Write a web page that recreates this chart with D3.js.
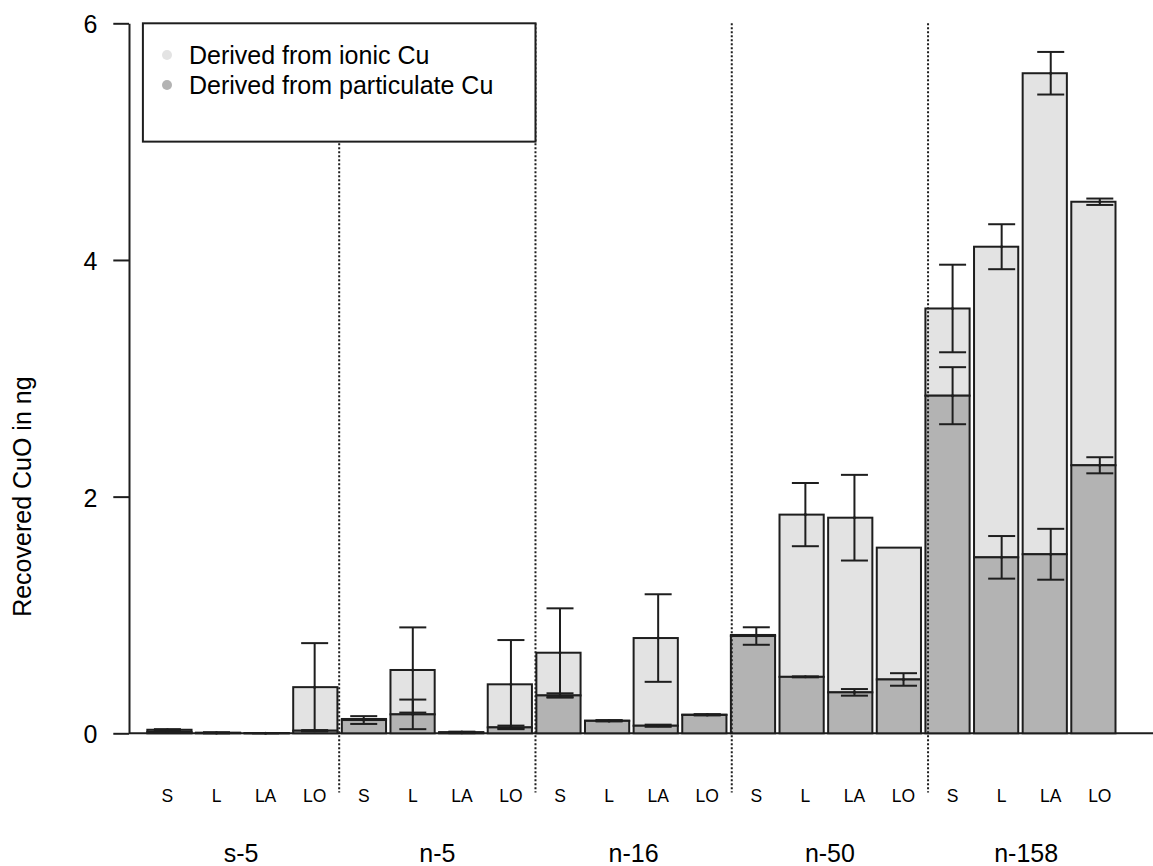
<!doctype html>
<html lang="en">
<head>
	<meta charset="utf-8">
	<title>Recovered CuO</title>
	<script src="https://cdnjs.cloudflare.com/ajax/libs/d3/7.8.5/d3.min.js"></script>
	<style>
		body { margin: 0; background: #fff; }
		svg { display: block; font-family: Arial, "Liberation Sans", sans-serif; }
	</style>
</head>
<body>
<div id="d3view"></div>
<script>
/* model */
var groups = ['s-5', 'n-5', 'n-16', 'n-50', 'n-158'];
var types = ['S', 'L', 'LA', 'LO'];

// bar tops (ionic + particulate) and their error
var total = [0.03, 0.005, 0.002, 0.39, 0.121, 0.535, 0.01, 0.414, 0.681, 0.107, 0.805, 0.158, 0.831, 1.848, 1.822, 1.569, 3.59, 4.112, 5.578, 4.492];
var totalErr = [0.005, 0.003, 0, 0.372, 0, 0.36, 0.004, 0.374, 0.375, 0.004, 0.37, 0.003, 0, 0.267, 0.362, 0, 0.37, 0.19, 0.18, 0.027];

// particulate part and its error
var particulate = [0.012, 0.003, 0.001, 0.022, 0.112, 0.16, 0.005, 0.05, 0.32, 0.105, 0.064, 0.155, 0.822, 0.477, 0.346, 0.455, 2.853, 1.487, 1.513, 2.265];
var particulateErr = [0.005, 0.003, 0.001, 0.005, 0.033, 0.125, 0.004, 0.015, 0.018, 0.004, 0.009, 0.004, 0.074, 0.004, 0.028, 0.053, 0.241, 0.18, 0.215, 0.068];

var yTicks = [0, 2, 4, 6];
var legendLabels = ['Derived from ionic Cu', 'Derived from particulate Cu'];

/* view */
var size = { width: 1153, height: 866 };
var light = '#e3e3e3', dark = '#b3b3b3', ink = '#1e1e1e';
var barSpace = 0.1, labelStep = 1.11, groupWidth = labelStep * types.length;
var fs = 25;

var svg = d3.select('#d3view')
	.append('svg')
	.attr('width', size.width)
	.attr('height', size.height);

var x = d3.scaleLinear().domain([0, 22]).range([142.9, 1115.5]);
var y = d3.scaleLinear().domain([0, 6]).range([733.3, 23.3]);
var bw = x(1) - x(0);

var bars = d3.range(total.length).map(function(i){
	return {
		i: i,
		total: total[i], totalErr: totalErr[i],
		part: particulate[i], partErr: particulateErr[i]
	};
});

// baseline
svg.append('line')
	.attr('x1', 129).attr('x2', size.width)
	.attr('y1', y(0)).attr('y2', y(0))
	.style('stroke', ink).style('stroke-width', 2);

// stacked bars
var bar = svg.selectAll('g.bar')
	.data(bars)
	.enter()
	.append('g')
	.attr('class', 'bar');

bar.append('rect')
	.attr('x', function(d){ return x(barSpace + (1 + barSpace) * d.i); })
	.attr('width', bw)
	.attr('y', function(d){ return y(d.total); })
	.attr('height', function(d){ return Math.max(0, y(d.part) - y(d.total)); })
	.style('fill', light)
	.style('stroke', ink)
	.style('stroke-width', 2);

bar.append('rect')
	.attr('x', function(d){ return x(barSpace + (1 + barSpace) * d.i); })
	.attr('width', bw)
	.attr('y', function(d){ return y(d.part); })
	.attr('height', function(d){ return y(0) - y(d.part); })
	.style('fill', dark)
	.style('stroke', ink)
	.style('stroke-width', 2);

// error bars
function errorBar(sel, mean, err){
	var g = sel.filter(function(d){ return d[err] > 0; })
		.append('g')
		.attr('transform', function(d){ return 'translate(' + x((d.i + 0.5) * labelStep) + ',0)'; });
	g.append('line')
		.attr('y1', function(d){ return y(d[mean] - d[err]); })
		.attr('y2', function(d){ return y(d[mean] + d[err]); });
	g.append('line')
		.attr('x1', -13.5).attr('x2', 13.5)
		.attr('y1', function(d){ return y(d[mean] + d[err]); })
		.attr('y2', function(d){ return y(d[mean] + d[err]); });
	g.append('line')
		.attr('x1', -13.5).attr('x2', 13.5)
		.attr('y1', function(d){ return y(d[mean] - d[err]); })
		.attr('y2', function(d){ return y(d[mean] - d[err]); });
	g.selectAll('line').style('stroke', ink).style('stroke-width', 2);
	g.append('circle')
		.attr('cy', function(d){ return y(d[mean]); })
		.attr('r', 1.5)
		.style('fill', ink);
}
errorBar(bar, 'total', 'totalErr');
errorBar(bar, 'part', 'partErr');

// group dividers
svg.selectAll('line.divider')
	.data(d3.range(1, groups.length))
	.enter()
	.append('line')
	.attr('class', 'divider')
	.attr('x1', function(k){ return x(k * groupWidth); })
	.attr('x2', function(k){ return x(k * groupWidth); })
	.attr('y1', y(6))
	.attr('y2', y(-0.5))
	.style('stroke', ink)
	.style('stroke-width', 2)
	.style('stroke-dasharray', '2,2');

// y axis
var yAxis = svg.append('g')
	.attr('transform', 'translate(129,0)')
	.call(d3.axisLeft(y).tickValues(yTicks).tickSize(15.7).tickSizeOuter(0).tickPadding(16).tickFormat(d3.format('d')));
yAxis.select('.domain').style('stroke', ink).style('stroke-width', 2);
yAxis.selectAll('.tick line').style('stroke', ink).style('stroke-width', 2);
yAxis.selectAll('.tick text')
	.attr('dy', '0.38em')
	.style('font-family', 'Arial, "Liberation Sans", sans-serif')
	.style('font-size', fs + 'px')
	.style('fill', '#000');

svg.append('text')
	.attr('transform', 'translate(31,' + y(2) + ') rotate(-90)')
	.attr('text-anchor', 'middle')
	.style('font-size', fs + 'px')
	.text('Recovered CuO in ng');

// category and group labels
svg.selectAll('text.type')
	.data(bars)
	.enter()
	.append('text')
	.attr('class', 'type')
	.attr('x', function(d){ return x((d.i + 0.5) * labelStep); })
	.attr('y', 802)
	.attr('text-anchor', 'middle')
	.style('font-size', '17.5px')
	.text(function(d){ return types[d.i % types.length]; });

svg.selectAll('text.group')
	.data(groups)
	.enter()
	.append('text')
	.attr('class', 'group')
	.attr('x', function(d, k){ return x((k + 0.5) * groupWidth); })
	.attr('y', 862)
	.attr('text-anchor', 'middle')
	.style('font-size', fs + 'px')
	.text(function(d){ return d; });

// legend
var legend = svg.append('g');
legend.append('rect')
	.attr('x', x(0))
	.attr('y', y(6))
	.attr('width', x(2 * groupWidth) - x(0))
	.attr('height', y(5) - y(6))
	.style('fill', '#fff')
	.style('stroke', ink)
	.style('stroke-width', 2);

var item = legend.selectAll('g.item')
	.data(legendLabels)
	.enter()
	.append('g')
	.attr('class', 'item')
	.attr('transform', function(d, i){ return 'translate(0,' + (55 + i * 30) + ')'; });
item.append('circle')
	.attr('cx', 167)
	.attr('r', 5)
	.style('fill', function(d, i){ return i ? dark : light; });
item.append('text')
	.attr('x', 189)
	.attr('dy', '0.36em')
	.style('font-size', fs + 'px')
	.text(function(d){ return d; });
</script>
</body>
</html>
